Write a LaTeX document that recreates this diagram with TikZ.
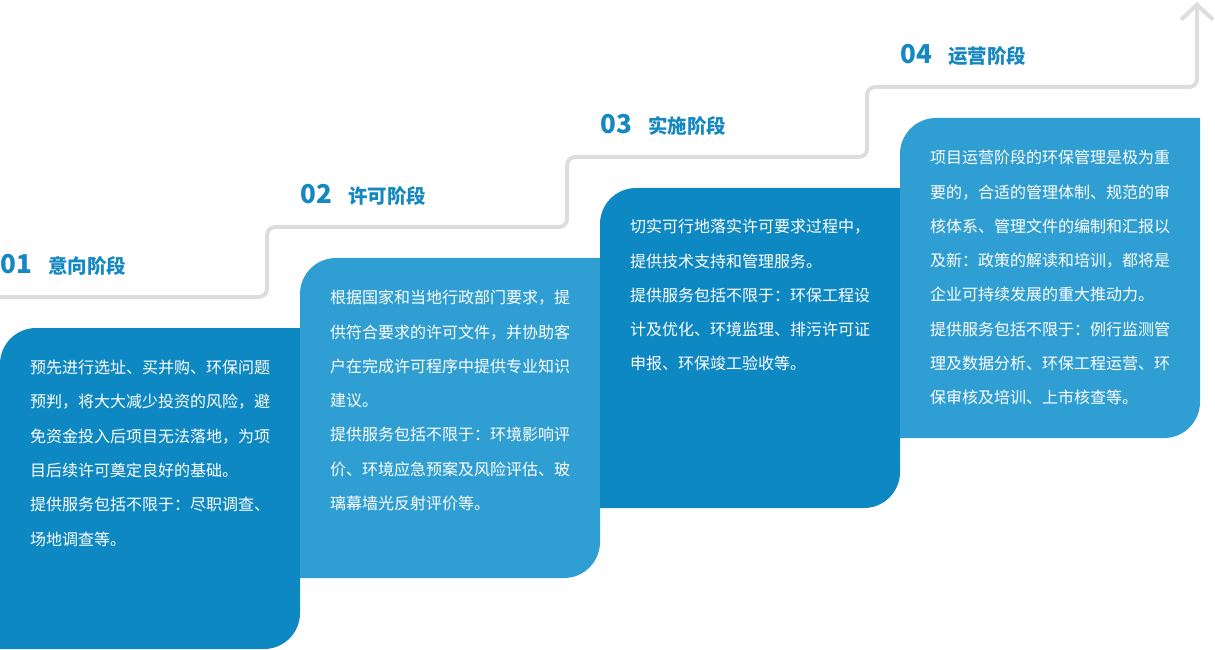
\documentclass[tikz,border=0pt]{standalone}
\usepackage{fontspec}
\setmainfont{Noto Sans CJK SC}
\usetikzlibrary{arrows.meta,positioning}
\definecolor{StageDark}{RGB}{14,136,194}
\definecolor{StageLight}{RGB}{47,158,210}
\definecolor{TitleBlue}{RGB}{21,136,194}
\definecolor{TrailGray}{RGB}{221,221,221}

\begin{document}
\begin{tikzpicture}[x=1pt,y=1pt,
  body/.style={anchor=north west,inner sep=0pt,text=white,align=left,font=\fontsize{16}{34.3}\selectfont},
  num/.style={anchor=base west,inner sep=0pt,text=TitleBlue,font=\bfseries\fontsize{26}{26}\selectfont},
  title/.style={inner sep=0pt,text=TitleBlue,font=\bfseries\fontsize{19.5}{19.5}\selectfont},
  trail/.style={draw=TrailGray,line width=4pt,rounded corners=8pt}
]
  \useasboundingbox (0,0) rectangle (1215,649);
  % stage cards
  \fill[StageDark] (0,0) -- (0,285) arc[start angle=180,end angle=90,radius=36] -- (300,321) -- (300,36) arc[start angle=0,end angle=-90,radius=36] -- cycle;
  \fill[StageLight] (300,71) -- (300,355) arc[start angle=180,end angle=90,radius=36] -- (600,391) -- (600,107) arc[start angle=0,end angle=-90,radius=36] -- cycle;
  \fill[StageDark] (600,141) -- (600,425) arc[start angle=180,end angle=90,radius=36] -- (900,461) -- (900,177) arc[start angle=0,end angle=-90,radius=36] -- cycle;
  \fill[StageLight] (900,211) -- (900,495) arc[start angle=180,end angle=90,radius=36] -- (1200,531) -- (1200,247) arc[start angle=0,end angle=-90,radius=36] -- cycle;
  % step trail
  \coordinate (t0) at (0,352);
  \coordinate (t1) at (267,352);
  \coordinate (t2) at (267,422);
  \coordinate (t3) at (567,422);
  \coordinate (t4) at (567,492);
  \coordinate (t5) at (867,492);
  \coordinate (t6) at (867,562);
  \coordinate (t7) at (1197,562);
  \coordinate (tip) at (1197,647);
  \draw[trail,-{Straight Barb[length=15pt,width=32pt]}] (t0) -- (t1) -- (t2) -- (t3) -- (t4) -- (t5) -- (t6) -- (t7) -- (tip);
  % headings
  \node[num] (n1) at (0,375) {01};
  \node[title,base right=16pt of n1] (h1) {意向阶段};
  \node[num] (n2) at (300,445) {02};
  \node[title,base right=16pt of n2] (h2) {许可阶段};
  \node[num] (n3) at (600,515) {03};
  \node[title,base right=16pt of n3] (h3) {实施阶段};
  \node[num] (n4) at (900,585) {04};
  \node[title,base right=16pt of n4] (h4) {运营阶段};
  % card texts
  \node[body] (b1) at (30,289) {预先进行选址、买并购、环保问题\\预判，将大大减少投资的风险，避\\免资金投入后项目无法落地，为项\\目后续许可奠定良好的基础。\\提供服务包括不限于：尽职调查、\\场地调查等。};
  \node[body] (b2) at (330,359) {根据国家和当地行政部门要求，提\\供符合要求的许可文件，并协助客\\户在完成许可程序中提供专业知识\\建议。\\提供服务包括不限于：环境影响评\\价、环境应急预案及风险评估、玻\\璃幕墙光反射评价等。};
  \node[body] (b3) at (630,430) {切实可行地落实许可要求过程中，\\提供技术支持和管理服务。\\提供服务包括不限于：环保工程设\\计及优化、环境监理、排污许可证\\申报、环保竣工验收等。};
  \node[body] (b4) at (930,499) {项目运营阶段的环保管理是极为重\\要的，合适的管理体制、规范的审\\核体系、管理文件的编制和汇报以\\及新：政策的解读和培训，都将是\\企业可持续发展的重大推动力。\\提供服务包括不限于：例行监测管\\理及数据分析、环保工程运营、环\\保审核及培训、上市核查等。};
\end{tikzpicture}
\end{document}
